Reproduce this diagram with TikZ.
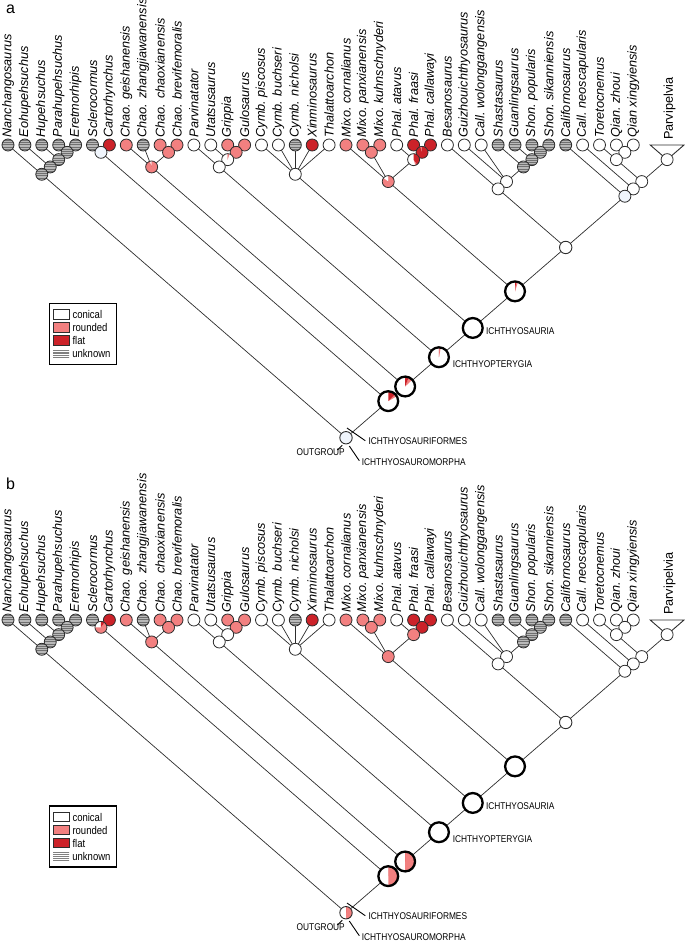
\documentclass[tikz,border=0pt]{standalone}
\usepackage{fontspec}
\setmainfont{Liberation Sans}
\newfontfamily\narrowfont[FakeStretch=0.85]{Liberation Sans}
\usetikzlibrary{positioning, backgrounds}
\definecolor{stRoundC}{RGB}{242,128,128}
\definecolor{stFlatC}{RGB}{204,34,41}
\definecolor{stUnkC}{RGB}{112,112,112}
\definecolor{stripeC}{RGB}{185,185,185}
\definecolor{tintC}{RGB}{240,245,252}
\definecolor{branchC}{RGB}{45,45,45}
\tikzset{
    taxon/.style={circle, draw=branchC, line width=0.8pt, inner sep=0pt, minimum size=12pt},
    midnode/.style={circle, draw=branchC, line width=0.9pt, inner sep=0pt, minimum size=12.4pt},
    bignode/.style={circle, draw=black, line width=2.3pt, inner sep=0pt, minimum size=19.8pt},
    stCone/.style={fill=white},
    stRound/.style={fill=stRoundC},
    stFlat/.style={fill=stFlatC},
    stTint/.style={fill=tintC},
    stUnk/.style={fill=stUnkC, path picture={
        \foreach \k in {-7,...,7}
            \draw[stripeC, line width=0.8pt] ([xshift=-13pt, yshift=\k*1.8pt]path picture bounding box.center) -- ++(26pt,0pt);}},
    piefill/.style n args={3}{fill=white, path picture={
        \fill[stRoundC] (path picture bounding box.center) -- ++({90+360*#1}:16pt)
            arc[start angle={90+360*#1}, end angle={90+360*(#1+#2)}, radius=16pt] -- cycle;
        \fill[stFlatC] (path picture bounding box.center) -- ++({90+360*(#1+#2)}:16pt)
            arc[start angle={90+360*(#1+#2)}, end angle=450, radius=16pt] -- cycle;}},
    branch/.style={draw=branchC, line width=0.7pt},
    leader/.style={draw=black, line width=0.9pt},
    tiplabel/.style={rotate=90, anchor=west, inner sep=1pt, font=\fontsize{12.7}{15}\selectfont\itshape},
    grouplabel/.style={rotate=90, anchor=west, inner sep=1pt, font=\fontsize{12.7}{15}\selectfont},
    cladelabel/.style={inner sep=0pt, font=\narrowfont\fontsize{9.8}{11}\selectfont},
    panellabel/.style={inner sep=0pt, anchor=base west, font=\fontsize{16}{18}\selectfont},
    legendbox/.style={draw=black, line width=1.4pt, minimum width=67.4pt, minimum height=61pt, inner sep=0pt},
    swatch/.style={draw=branchC, line width=0.6pt, minimum width=16pt, minimum height=9.5pt, inner sep=0pt},
    legunk/.style={minimum width=16pt, minimum height=9.5pt, inner sep=0pt, path picture={
        \foreach \k in {-2,...,2}
            \draw[gray, line width=0.7pt] ([xshift=-9pt, yshift=\k*1.8pt]path picture bounding box.center) -- ++(18pt,0pt);}},
    legtext/.style={inner sep=0pt, font=\narrowfont\fontsize{11.2}{12}\selectfont},
    % panel a: ancestral states, equal weighting
    a-root/.style={stTint},
    a-A1/.style={piefill={0.833}{0.042}{0.125}},
    a-A2/.style={piefill={0.87}{0.07}{0.06}},
    a-A3/.style={piefill={0.97}{0.02}{0.01}},
    a-A4/.style={stCone},
    a-A5/.style={piefill={0.95}{0.03}{0.02}},
    a-sc67/.style={stTint},
    a-ch811/.style={piefill={0.05}{0.95}{0}},
    a-gr1315/.style={piefill={0.95}{0.05}{0}},
    a-mx2126/.style={piefill={0.15}{0.85}{0}},
    a-ph2426/.style={piefill={0.55}{0.05}{0.40}},
    a-ph2526/.style={piefill={0}{0.05}{0.95}},
    a-pv3441/.style={stTint},
    % panel b
    b-root/.style={piefill={0.5}{0.5}{0}},
    b-A1/.style={piefill={0.5}{0.5}{0}},
    b-A2/.style={piefill={0.5}{0.5}{0}},
    b-A3/.style={stCone},
    b-A4/.style={stCone},
    b-A5/.style={stCone},
    b-sc67/.style={piefill={0.25}{0.65}{0.10}},
    b-ch811/.style={stRound},
    b-gr1315/.style={stCone},
    b-mx2126/.style={stRound},
    b-ph2426/.style={stRound},
    b-ph2526/.style={stFlat},
    b-pv3441/.style={stCone},
}

% #1 panel, #2 vertical offset, #3 top of legend
\newcommand\drawpanel[3]{
    \node[panellabel] (#1panel) at (6, {14+#2}) {#1};
    % terminal taxa
    \foreach \i/\nm/\st/\lab in {1/nanch/stUnk/Nanchangosaurus, 2/eohup/stUnk/Eohupehsuchus,
        3/hupeh/stUnk/Hupehsuchus, 4/parah/stUnk/Parahupehsuchus, 5/eretm/stUnk/Eretmorhipis,
        6/scler/stUnk/Sclerocormus, 7/carto/stFlat/Cartorhynchus, 8/chgei/stRound/Chao.\ geishanensis,
        9/chzha/stUnk/Chao. zhangjiawanensis, 10/chcha/stRound/Chao. chaoxianensis,
        11/chbre/stRound/Chao.\ brevifemoralis, 12/parvi/stCone/Parvinatator, 13/utats/stCone/Utatsusaurus,
        14/gripp/stRound/Grippia, 15/gulos/stRound/Gulosaurus, 16/cypis/stCone/Cymb.\ piscosus,
        17/cybuc/stCone/Cymb. buchseri, 18/cynic/stUnk/Cymb. nicholsi, 19/xinmi/stFlat/Xinminosaurus,
        20/thala/stCone/Thalattoarchon, 21/mxcor/stRound/Mixo.\ cornalianus, 22/mxpan/stRound/Mixo.\ panxianensis,
        23/mxkuh/stRound/Mixo.\ kuhnschnyderi, 24/phata/stCone/Phal.\ atavus, 25/phfra/stFlat/Phal. fraasi,
        26/phcal/stFlat/Phal.\ callawayi, 27/besan/stCone/Besanosaurus, 28/guizh/stCone/Guizhouichthyosaurus,
        29/cawol/stCone/Call.\ wolonggangensis, 30/shast/stUnk/Shastasaurus, 31/guanl/stUnk/Guanlingsaurus,
        32/shpop/stUnk/Shon.\ popularis, 33/shsik/stUnk/Shon.\ sikanniensis, 34/calif/stUnk/Californosaurus,
        35/caneo/stCone/Call.\ neoscapularis, 36/toret/stCone/Toretocnemus, 37/qizho/stCone/Qian.\ zhoui,
        38/qixin/stCone/Qian xingyiensis}{
        \node[taxon, \st] (#1\nm) at ({8+16.9*(\i-1)}, {145+#2}) {};
        \node[tiplabel] (#1l\nm) at (#1\nm.north) {\lab};
    }
    \coordinate (#1pvl) at ({8+16.9*38}, {145+#2});
    \coordinate (#1pvr) at ({8+16.9*40}, {145+#2});
    \node[grouplabel] (#1lparvp) at (669.5, {141+#2}) {Parvipelvia};
    % internal nodes
    \foreach \nm/\l/\r/\sh/\st in {hu45/4/5/taxon/stUnk, hu35/3/5/taxon/stUnk, hu25/2/5/taxon/stUnk,
        hu15/1/5/taxon/stUnk, sc67/6/7/taxon/#1-sc67, ch1011/10/11/taxon/stRound, ch811/8/11/taxon/#1-ch811,
        gr1415/14/15/taxon/stRound, gr1315/13/15/taxon/#1-gr1315, gr1215/12/15/taxon/stCone,
        cy1620/16/20/taxon/stCone, mx2223/22/23/taxon/stRound, ph2526/25/26/taxon/#1-ph2526,
        ph2426/24/26/taxon/#1-ph2426, mx2126/21/26/taxon/#1-mx2126, sh3233/32/33/taxon/stUnk,
        sh3133/31/33/taxon/stUnk, sh3033/30/33/taxon/stUnk, sh2833/28/33/taxon/stCone, sh2733/27/33/taxon/stCone,
        qi3738/37/38/taxon/stCone, qi3638/36/38/taxon/stCone, parvp/39/41/taxon/stCone,
        pv3641/36/41/taxon/stCone, pv3541/35/41/taxon/stCone, pv3441/34/41/taxon/#1-pv3441,
        A6/27/41/midnode/stCone, A5/21/41/bignode/#1-A5, A4/16/41/bignode/#1-A4, A3/12/41/bignode/#1-A3,
        A2/8/41/bignode/#1-A2, A1/6/41/bignode/#1-A1, root/1/41/midnode/#1-root}
        \node[\sh, \st] (#1\nm) at ({8+8.45*(\l+\r-2)}, {145+#2+7.318*(\r-\l)}) {};
    % branches
    \begin{scope}[on background layer]
        \foreach \c/\p in {nanch/hu15, eohup/hu25, hupeh/hu35, parah/hu45, eretm/hu45, hu45/hu35,
            hu35/hu25, hu25/hu15, hu15/root, scler/sc67, carto/sc67, sc67/A1,
            chgei/ch811, chzha/ch811, chcha/ch1011, chbre/ch1011, ch1011/ch811, ch811/A2,
            parvi/gr1215, utats/gr1315, gripp/gr1415, gulos/gr1415, gr1415/gr1315, gr1315/gr1215, gr1215/A3,
            cypis/cy1620, cybuc/cy1620, cynic/cy1620, xinmi/cy1620, thala/cy1620, cy1620/A4,
            mxcor/mx2126, mxpan/mx2223, mxkuh/mx2223, mx2223/mx2126, phata/ph2426, phfra/ph2526,
            phcal/ph2526, ph2526/ph2426, ph2426/mx2126, mx2126/A5,
            besan/sh2733, guizh/sh2833, cawol/sh2833, shast/sh3033, guanl/sh3133, shpop/sh3233,
            shsik/sh3233, sh3233/sh3133, sh3133/sh3033, sh3033/sh2833, sh2833/sh2733, sh2733/A6,
            calif/pv3441, caneo/pv3541, toret/qi3638, qizho/qi3738, qixin/qi3738, qi3738/qi3638,
            qi3638/pv3641, parvp/pv3641, pv3641/pv3541, pv3541/pv3441, pv3441/A6,
            A6/A5, A5/A4, A4/A3, A3/A2, A2/A1, A1/root}
            \draw[branch] (#1\c.center) -- (#1\p.center);
        \draw[branch, line width=0.9pt] (#1parvp.center) -- (#1pvl) -- (#1pvr) -- cycle;
    \end{scope}
    % clade names
    \node[cladelabel, anchor=west] (#1lbsauria) at ([xshift=2pt, yshift=-3pt]#1A4.east) {ICHTHYOSAURIA};
    \node[cladelabel, anchor=west] (#1lbptery) at ([xshift=2.6pt, yshift=-7.3pt]#1A3.east) {ICHTHYOPTERYGIA};
    \node[cladelabel, anchor=west] (#1lbifm) at ([xshift=22.3pt, yshift=-3pt]#1root.center) {ICHTHYOSAURIFORMES};
    \node[cladelabel, anchor=west] (#1lbimo) at ([xshift=15.7pt, yshift=-24.6pt]#1root.center) {ICHTHYOSAUROMORPHA};
    \node[cladelabel, anchor=east] (#1lbout) at ([xshift=-1pt, yshift=-14pt]#1root.center) {OUTGROUP};
    \draw[leader] ([shift={(1pt,9.7pt)}]#1root.center) -- ([xshift=-3pt]#1lbifm.west);
    \draw[leader] ([shift={(3.3pt,-8.3pt)}]#1root.center) -- ([shift={(-2.4pt,1.6pt)}]#1lbimo.west);
    \draw[leader] ([shift={(-8.7pt,-12.3pt)}]#1root.center) -- ([shift={(-3.7pt,-7.6pt)}]#1root.center);
    % legend
    \node[legendbox] (#1legend) at (83, {#3+30.5}) {};
    \node[swatch, stCone] (#1swcone) at (61, {#3+11}) {};
    \node[swatch, stRound] (#1swround) at (61, {#3+24}) {};
    \node[swatch, stFlat] (#1swflat) at (61, {#3+37}) {};
    \node[legunk] (#1swunk) at (61, {#3+50.4}) {};
    \node[legtext, right=3pt of #1swcone] (#1ltcone) {conical};
    \node[legtext, right=3pt of #1swround] (#1ltround) {rounded};
    \node[legtext, right=3pt of #1swflat] (#1ltflat) {flat};
    \node[legtext, right=3pt of #1swunk] (#1ltunk) {unknown};
}

\begin{document}
\begin{tikzpicture}[x=1pt, y=-1pt]
    \useasboundingbox (0,0) rectangle (685,942);
    \drawpanel{a}{0}{303.3}
    \drawpanel{b}{475}{806}
\end{tikzpicture}
\end{document}
